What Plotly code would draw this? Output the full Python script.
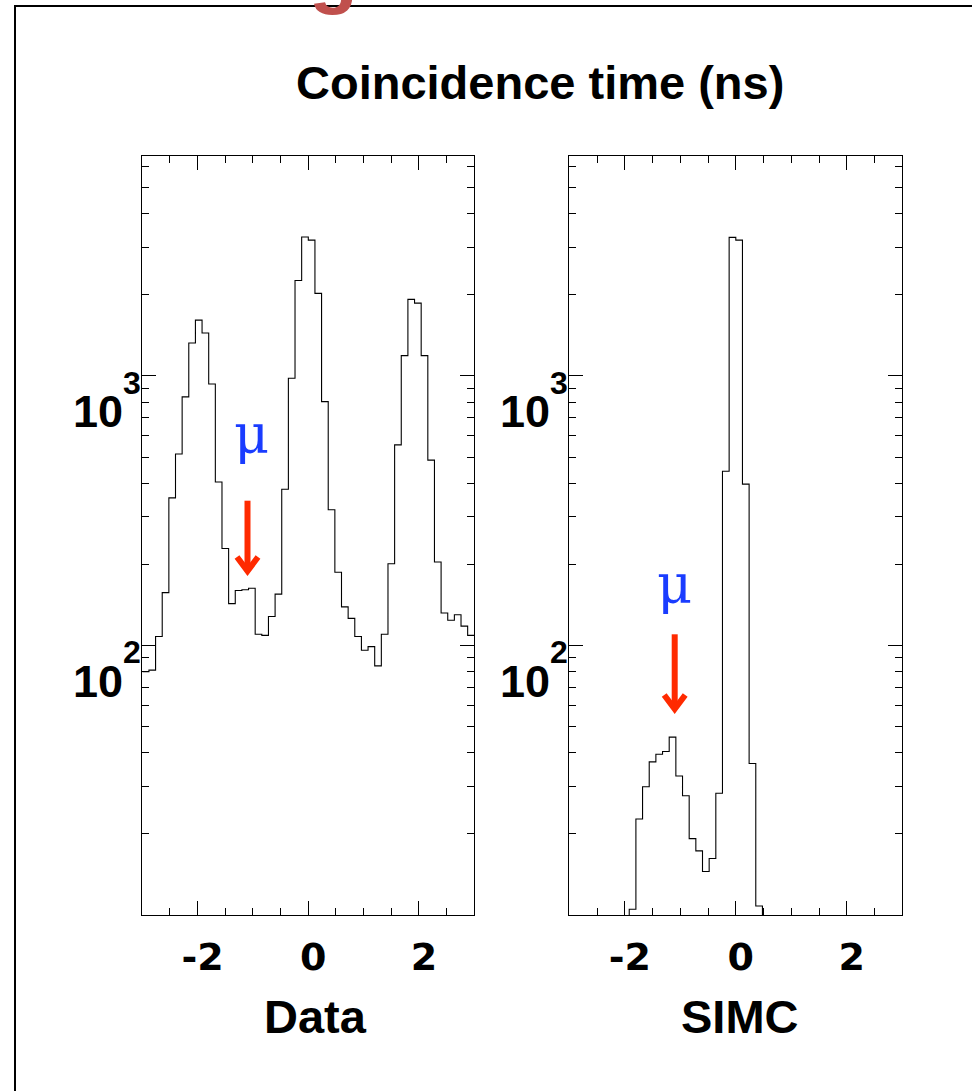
import numpy as np
import plotly.graph_objects as go

# ---------------- data ----------------
bin_lo, bin_hi, n_bins = -3.0, 3.0, 50
data_counts = [80, 81, 108, 157, 353, 513, 836, 1325, 1611, 1443,
               934, 404, 229, 143, 160, 161, 163, 110, 109, 128,
               155, 380, 980, 2260, 3275, 3190, 2024, 803, 319, 187,
               139, 126, 108, 96, 99, 84, 110, 201, 555, 1189,
               1923, 1863, 1189, 487, 204, 132, 124, 130, 118, 109]
simc_counts = [0, 0, 0, 0, 0, 0, 0, 0, 0, 10.5,
               22.7, 29.9, 37, 39.5, 40.4, 45.7, 32.8, 27.7, 19.2, 17.3,
               14.5, 16.2, 28.3, 443, 3266, 3190, 397, 36.5, 10.8, 0,
               0, 0, 0, 0, 0, 0, 0, 0, 0, 0,
               0, 0, 0, 0, 0, 0, 0, 0, 0, 0]
x_tick_vals = [-2, 0, 2]
x_tick_text = ["-2", "0", "2"]
x_minor_vals = [-2.5, -1.5, -1, -0.5, 0.5, 1, 1.5, 2.5]
y_major_vals = [100, 1000]
y_major_exp = ["2", "3"]
y_minor_vals = [20, 30, 40, 50, 60, 70, 80, 90,
                200, 300, 400, 500, 600, 700, 800, 900,
                2000, 3000, 4000, 5000, 6000]
panel_titles = ["Data", "SIMC"]
title_text = "Coincidence time (ns)"

# ---------------- geometry helpers ----------------
W, H = 972, 1091
def X(px):
    return px / W
def Y(py):
    return 1 - py / H

edges = np.linspace(bin_lo, bin_hi, n_bins + 1)

def step_xy(counts):
    c = np.asarray(counts, dtype=float)
    c = np.where(c > 0, c, 1e-3)
    return edges, np.append(c, c[-1])

fig = go.Figure()
for i, counts in enumerate([data_counts, simc_counts]):
    xs, ys = step_xy(counts)
    fig.add_trace(go.Scatter(
        x=xs, y=ys, mode="lines", line=dict(shape="hv", color="black", width=1.1),
        xaxis="x" if i == 0 else "x2", yaxis="y" if i == 0 else "y2",
        showlegend=False, hoverinfo="skip"))

xdom = [[X(142.3), X(474.3)], [X(569.3), X(902.3)]]
ydom = [Y(915), Y(156)]

tickfont = dict(family="DejaVu Sans", size=38, color="black", weight="bold")
for i in range(2):
    sx = "" if i == 0 else "2"
    fig.update_layout(**{
        f"xaxis{sx}": dict(
            domain=xdom[i], range=[bin_lo, bin_hi], anchor=f"y{sx}",
            showline=True, linecolor="black", linewidth=1, mirror="ticks",
            ticks="inside", ticklen=14, tickwidth=1, tickcolor="black",
            tickmode="array", tickvals=x_tick_vals, ticktext=x_tick_text,
            tickfont=tickfont, ticklabelstandoff=8, ticklabelshift=5,
            showgrid=False, zeroline=False, fixedrange=True,
            minor=dict(tickmode="array", tickvals=x_minor_vals, ticks="inside",
                       ticklen=7, tickwidth=1, tickcolor="black", showgrid=False)),
        f"yaxis{sx}": dict(
            domain=ydom, type="log", range=[1, 3.816], anchor=f"x{sx}",
            showline=True, linecolor="black", linewidth=1, mirror="ticks",
            ticks="inside", ticklen=14, tickwidth=1, tickcolor="black",
            tickmode="array", tickvals=y_major_vals, showticklabels=False,
            showgrid=False, zeroline=False, fixedrange=True,
            minor=dict(tickmode="array", tickvals=y_minor_vals, ticks="inside",
                       ticklen=7, tickwidth=1, tickcolor="black", showgrid=False)),
    })

annos = []
# y tick labels 10^n built from axis values
axis_left_px = [142.3, 569.3]
for i in range(2):
    yref = "y" if i == 0 else "y2"
    for v, e in zip(y_major_vals, y_major_exp):
        annos.append(dict(text="<b>10</b>", x=X(axis_left_px[i] - 17), xref="paper",
                          y=np.log10(v), yref=yref, xanchor="right", yanchor="middle",
                          yshift=-36, showarrow=False,
                          font=dict(family="Liberation Sans", size=45, color="black")))
        annos.append(dict(text=f"<b>{e}</b>", x=X(axis_left_px[i] + 1), xref="paper",
                          y=np.log10(v), yref=yref, xanchor="right", yanchor="middle",
                          yshift=-7, showarrow=False,
                          font=dict(family="Liberation Sans", size=32, color="black")))

# panel titles
for cx, t in zip([315.8, 740], panel_titles):
    annos.append(dict(text=f"<b>{t}</b>", x=X(cx), y=Y(1016), xref="paper", yref="paper",
                      xanchor="center", yanchor="middle", showarrow=False,
                      font=dict(family="Liberation Sans", size=47, color="black")))
# main title
annos.append(dict(text=f"<b>{title_text}</b>", x=X(540), y=Y(83), xref="paper", yref="paper",
                  xanchor="center", yanchor="middle", showarrow=False,
                  font=dict(family="Liberation Sans", size=47, color="black")))
# mu labels
for cx, cy in [(251, 434), (674, 584)]:
    annos.append(dict(text="μ", x=X(cx), y=Y(cy), xref="paper", yref="paper",
                      xanchor="center", yanchor="middle", showarrow=False,
                      font=dict(family="DejaVu Serif", size=54, color="#1a3cff")))
# partial red slide-title letter at top edge
annos.append(dict(text="<b>g</b>", x=X(333), y=Y(-30), xref="paper", yref="paper",
                  xanchor="center", yanchor="middle", showarrow=False,
                  font=dict(family="Liberation Sans", size=80, color="#c0504d")))

shapes = []
# page frame (top + left lines)
shapes.append(dict(type="path", xref="paper", yref="paper", layer="below",
                   path=f"M {X(15)},{Y(1100)} L {X(15)},{Y(6)} L {X(990)},{Y(6)}",
                   line=dict(color="black", width=2)))
# red arrows
red = "#ff2a00"
for sx, top, tip in [(247.5, 500.7, 571), (674.7, 634.3, 709)]:
    shapes.append(dict(type="line", xref="paper", yref="paper",
                       x0=X(sx), x1=X(sx), y0=Y(top), y1=Y(tip - 4),
                       line=dict(color=red, width=6)))
    shapes.append(dict(type="path", xref="paper", yref="paper",
                       path=f"M {X(sx-10.5)},{Y(tip-14)} L {X(sx)},{Y(tip)} L {X(sx+10.5)},{Y(tip-14)}",
                       line=dict(color=red, width=6)))

fig.update_layout(width=W, height=H, margin=dict(l=0, r=0, t=0, b=0),
                  paper_bgcolor="white", plot_bgcolor="white",
                  annotations=annos, shapes=shapes)
fig.write_html("out.html", config={"displayModeBar": False},
               post_script="document.body.style.margin='0';document.body.style.overflow='hidden';")
